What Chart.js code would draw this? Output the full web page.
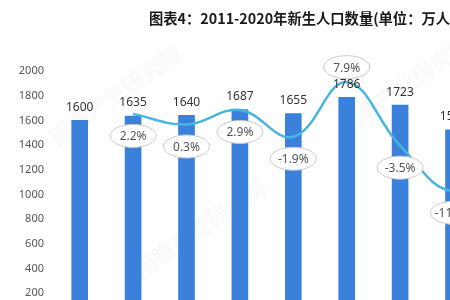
<!DOCTYPE html>
<html>
<head>
<meta charset="utf-8">
<script src="https://cdn.jsdelivr.net/npm/chart.js@4"></script>
<style>
  html, body { margin: 0; padding: 0; background: #fff; overflow: hidden; }
  #wrap { position: absolute; left: 0; top: 0; width: 600px; height: 345px; }
</style>
</head>
<body>
<div id="wrap"><canvas id="birthChart"></canvas></div>
<script>
// 年份、新生人口（万人）、同比增速（%）
const years = ['2011', '2012', '2013', '2014', '2015', '2016', '2017', '2018', '2019', '2020'];
const births = [1600, 1635, 1640, 1687, 1655, 1786, 1723, 1523, 1465, 1200];
const growth = [null, 2.2, 0.3, 2.9, -1.9, 7.9, -3.5, -11.6, -3.8, -18.1];
const yTicks = [0, 200, 400, 600, 800, 1000, 1200, 1400, 1600, 1800, 2000];
const titleText = '图表4：2011-2020年新生人口数量(单位：万人)';

// 标题（原图标题偏右，超出画面）
const titleDraw = {
    id: 'titleDraw',
    afterDraw(chart) {
        const ctx = chart.ctx;
        ctx.save();
        ctx.font = 'bold 14.3px "Noto Sans CJK SC", sans-serif';
        ctx.fillStyle = '#1a1a1a';
        ctx.textAlign = 'left';
        ctx.textBaseline = 'middle';
        ctx.fillText(titleText, 149, 19);
        ctx.restore();
    }
};

// 柱子上方的数值
const barLabels = {
    id: 'barLabels',
    afterDatasetsDraw(chart) {
        const ctx = chart.ctx;
        const meta = chart.getDatasetMeta(0);
        ctx.save();
        ctx.font = '12px "Noto Sans", sans-serif';
        ctx.fillStyle = '#333';
        ctx.textAlign = 'center';
        ctx.textBaseline = 'middle';
        meta.data.forEach((bar, i) => {
            ctx.fillText(births[i], bar.x, bar.y - 13);
        });
        ctx.restore();
    }
};

// 增速的椭圆标签
const rateLabels = {
    id: 'rateLabels',
    afterDatasetsDraw(chart) {
        const ctx = chart.ctx;
        const meta = chart.getDatasetMeta(1);
        ctx.save();
        ctx.font = '12px "Noto Sans", sans-serif';
        ctx.textAlign = 'center';
        ctx.textBaseline = 'middle';
        meta.data.forEach((pt, i) => {
            const v = growth[i];
            if (v === null) return;
            const cy = v > 5 ? pt.y - 15 : pt.y + 22;
            ctx.beginPath();
            ctx.ellipse(pt.x, cy, 23, 11.5, 0, 0, Math.PI * 2);
            ctx.fillStyle = '#fff';
            ctx.fill();
            ctx.strokeStyle = '#c9c9c9';
            ctx.lineWidth = 1;
            ctx.stroke();
            ctx.fillStyle = '#555';
            ctx.fillText(v.toFixed(1) + '%', pt.x, cy + 1);
        });
        ctx.restore();
    }
};

// 淡水印
const watermark = {
    id: 'watermark',
    beforeDatasetsDraw(chart) {
        const ctx = chart.ctx;
        const marks = [[115, 95], [200, 228], [405, 85]];
        ctx.save();
        ctx.font = 'bold 22px "Noto Sans CJK SC", sans-serif';
        ctx.fillStyle = 'rgba(170, 170, 170, 0.07)';
        ctx.textAlign = 'center';
        ctx.textBaseline = 'middle';
        marks.forEach(m => {
            ctx.save();
            ctx.translate(m[0], m[1]);
            ctx.rotate(-0.6);
            ctx.fillText('前瞻产业研究院', 0, 0);
            ctx.restore();
        });
        ctx.restore();
    }
};

new Chart(document.getElementById('birthChart'), {
    data: {
        labels: years,
        datasets: [
            {
                type: 'bar',
                label: '新生人口数量（万人）',
                data: births,
                backgroundColor: '#3b80db',
                barThickness: 16,
                yAxisID: 'y',
                order: 2
            },
            {
                type: 'line',
                label: '增速（%）',
                data: growth,
                borderColor: '#45b6e0',
                borderWidth: 2.5,
                pointRadius: 0,
                tension: 0.4,
                fill: false,
                yAxisID: 'y1',
                order: 1
            }
        ]
    },
    options: {
        responsive: true,
        maintainAspectRatio: false,
        animation: false,
        layout: { padding: { left: 0, right: 13, top: 71, bottom: 0 } },
        plugins: {
            legend: { display: false },
            tooltip: { enabled: false },
            title: { display: false }
        },
        scales: {
            x: {
                grid: { display: false },
                border: { display: false },
                ticks: { color: '#555', font: { family: '"Noto Sans", sans-serif', size: 11 } }
            },
            y: {
                min: 0,
                max: 2000,
                afterBuildTicks: (scale) => { scale.ticks = yTicks.map(v => ({ value: v })); },
                afterFit: (scale) => { scale.width = 53; },
                grid: { display: false, drawTicks: false },
                border: { display: false },
                ticks: {
                    padding: 9,
                    color: '#555',
                    font: { family: '"Noto Sans", sans-serif', size: 11 },
                    callback: (v) => String(v)
                }
            },
            y1: {
                display: false,
                min: -34.4,
                max: 9.9
            }
        }
    },
    plugins: [watermark, barLabels, rateLabels, titleDraw]
});
</script>
</body>
</html>
